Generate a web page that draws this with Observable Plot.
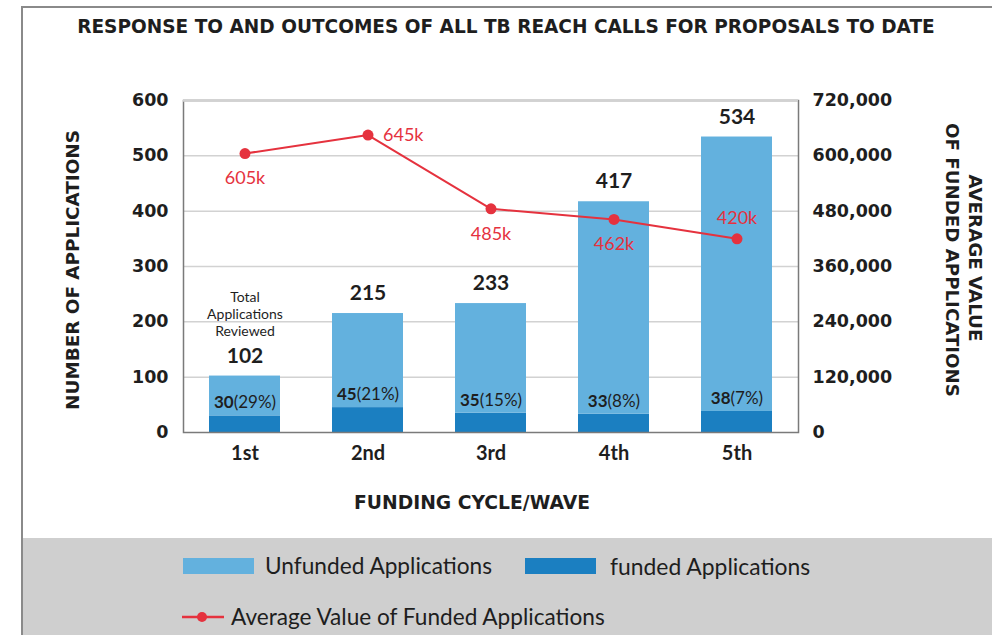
<!DOCTYPE html>
<html>
<head>
<meta charset="utf-8">
<script src="https://cdn.jsdelivr.net/npm/d3@7"></script>
<script src="https://cdn.jsdelivr.net/npm/@observablehq/plot@0.6"></script>
<style>
  html, body { margin: 0; padding: 0; background: #fff; }
  #wrap { position: relative; width: 992px; height: 635px; overflow: hidden; font-family: Lato, "Open Sans", sans-serif; color: #222; }
  #band { position: absolute; left: 23px; top: 538px; width: 969px; height: 97px; background: #cfcfcf; }
  #borderTop { position: absolute; left: 21px; top: 6px; width: 971px; height: 2px; background: #8a8a8a; }
  #borderLeft { position: absolute; left: 21px; top: 6px; width: 2px; height: 629px; background: #8a8a8a; }
  #chart { position: absolute; left: 0; top: 0; }
  .lbl { position: absolute; white-space: nowrap; line-height: 1; color: #1e1e1e; transform-origin: 0 0; }
  .sw { position: absolute; width: 71px; height: 16px; }
</style>
</head>
<body>
<div id="wrap">
  <div id="band"></div>
  <div id="borderTop"></div>
  <div id="borderLeft"></div>
  <div id="chart"></div>
  <div id="labels"></div>
</div>
<script>
// ---- data ----
const waves = ["1st", "2nd", "3rd", "4th", "5th"];
const totalApplications = [102, 215, 233, 417, 534];
const fundedApplications = [30, 45, 35, 33, 38];
const avgFundedValue = [605000, 645000, 485000, 462000, 420000];
const leftTicks = [0, 100, 200, 300, 400, 500, 600];
const rightTicks = [0, 120000, 240000, 360000, 480000, 600000, 720000];
const seriesNames = ["Unfunded Applications", "funded Applications", "Average Value of Funded Applications"];
const titleText = "RESPONSE TO AND OUTCOMES OF ALL TB REACH CALLS FOR PROPOSALS TO DATE";
const xLabel = "FUNDING CYCLE/WAVE";
const yLabelLeft = "NUMBER OF APPLICATIONS";
const yLabelRight = ["AVERAGE VALUE", "OF FUNDED APPLICATIONS"];
const totalNote = ["Total", "Applications", "Reviewed"];

const colors = { unfunded: "#63b1de", funded: "#1b7fc1", line: "#e5323e", text: "#1e1e1e", grid: "#d2d2d2", axis: "#7a7a7a" };

const ratio = rightTicks[rightTicks.length - 1] / leftTicks[leftTicks.length - 1];

const capsFont = "'DejaVu Sans', sans-serif";
const bodyFont = "Lato, 'Open Sans', sans-serif";

const cv = document.createElement("canvas").getContext("2d");
function measure(text, font) { cv.font = font; return cv.measureText(text).width; }

const rows = waves.map((w, i) => ({
  wave: w,
  total: totalApplications[i],
  funded: fundedApplications[i],
  avgScaled: avgFundedValue[i] / ratio,
  numText: String(fundedApplications[i]),
  pctText: `(${Math.round(fundedApplications[i] / totalApplications[i] * 100)}%)`,
  avgLabel: `${Math.round(avgFundedValue[i] / 1000)}k`
}));

const fundedSize = 17;
const fundedMarks = rows.flatMap(r => {
  const wNum = measure(r.numText, `bold ${fundedSize}px ${bodyFont}`);
  const wPct = measure(r.pctText, `${fundedSize}px ${bodyFont}`);
  const split = -(wNum + wPct) / 2 + wNum;
  return [
    Plot.text([r], { x: "wave", y: "funded", text: "numText", textAnchor: "end", dx: split, dy: -13, fontSize: fundedSize, fontWeight: "bold", fontFamily: bodyFont, fill: colors.text }),
    Plot.text([r], { x: "wave", y: "funded", text: "pctText", textAnchor: "start", dx: split, dy: -13, fontSize: fundedSize, fontFamily: bodyFont, fill: colors.text })
  ];
});

// "Total Applications Reviewed" note above the first bar, one line per mark
const noteMarks = totalNote.map((t, k) =>
  Plot.text(rows.filter(d => d.wave === waves[0]), { x: "wave", y: "total", text: () => t, dy: -79 + k * 17, fontSize: 14, fontFamily: bodyFont, fill: colors.text })
);

const plot = Plot.plot({
  width: 992,
  height: 538,
  marginLeft: 183,
  marginRight: 194,
  marginTop: 100,
  marginBottom: 106,
  style: { background: "transparent", fontFamily: bodyFont, color: colors.text, overflow: "visible" },
  x: { domain: waves, paddingInner: 0.42, paddingOuter: 0.21, axis: null },
  y: { domain: [0, 600], axis: null },
  marks: [
    Plot.gridY(leftTicks.slice(1), { stroke: colors.grid, strokeOpacity: 1, strokeWidth: 1.5 }),
    Plot.barY(rows, { x: "wave", y1: 0, y2: "funded", fill: colors.funded }),
    Plot.barY(rows, { x: "wave", y1: "funded", y2: "total", fill: colors.unfunded }),
    Plot.frame({ stroke: colors.axis, strokeWidth: 1.5 }),
    Plot.ruleY([600], { stroke: colors.grid, strokeWidth: 2.5 }),
    Plot.axisY({ anchor: "left", ticks: leftTicks, tickSize: 0, tickPadding: 15, fontSize: 17.5, fontWeight: "bold", fontFamily: capsFont, label: null }),
    Plot.axisY({ anchor: "right", ticks: rightTicks.map(d => d / ratio), tickFormat: d => d3.format(",")(Math.round(d * ratio)), tickSize: 0, tickPadding: 14, fontSize: 17.5, fontWeight: "bold", fontFamily: capsFont, label: null }),
    Plot.axisX({ anchor: "bottom", tickSize: 0, tickPadding: 13, fontSize: 20, fontWeight: "bold", fontFamily: bodyFont, label: null }),
    Plot.text(rows, { x: "wave", y: "total", text: d => String(d.total), dy: -20, fontSize: 21, fontWeight: "bold", fontFamily: bodyFont, fill: colors.text }),
    ...noteMarks,
    ...fundedMarks,
    Plot.line(rows, { x: "wave", y: "avgScaled", stroke: colors.line, strokeWidth: 2 }),
    Plot.dot(rows, { x: "wave", y: "avgScaled", r: 5.5, fill: colors.line }),
    Plot.text(rows.filter((d, i) => i === 0 || i === 2 || i === 3), { x: "wave", y: "avgScaled", text: "avgLabel", dy: 25, fontSize: 18, fontFamily: bodyFont, fill: colors.line }),
    Plot.text(rows.filter((d, i) => i === 1), { x: "wave", y: "avgScaled", text: "avgLabel", dx: 15, textAnchor: "start", fontSize: 18, fontFamily: bodyFont, fill: colors.line }),
    Plot.text(rows.filter((d, i) => i === 4), { x: "wave", y: "avgScaled", text: "avgLabel", dy: -21, fontSize: 18, fontFamily: bodyFont, fill: colors.line })
  ]
});
document.getElementById("chart").appendChild(plot);

// ---- HTML text (title, axis titles, legend) fitted to target widths ----
const labels = document.getElementById("labels");
function label(text, { cx, cy, width, font, weight = "normal", rotate = 0, color = colors.text, anchor = "center" }) {
  const base = 20;
  const w = measure(text, `${weight} ${base}px ${font}`);
  const size = base * width / w;
  const el = document.createElement("div");
  el.className = "lbl";
  el.textContent = text;
  el.style.fontFamily = font;
  el.style.fontWeight = weight;
  el.style.fontSize = size + "px";
  el.style.color = color;
  el.style.left = cx + "px";
  el.style.top = cy + "px";
  const tx = anchor === "start" ? "0" : "-50%";
  el.style.transform = `rotate(${rotate}deg) translate(${tx}, -50%)`;
  labels.appendChild(el);
  return el;
}
label(titleText, { cx: 506, cy: 27, width: 858, font: capsFont, weight: "bold" });
label(xLabel, { cx: 472, cy: 503, width: 236, font: capsFont, weight: "bold" });
label(yLabelLeft, { cx: 73, cy: 270, width: 280, font: capsFont, weight: "bold", rotate: -90 });
label(yLabelRight[0], { cx: 975, cy: 258, width: 167, font: capsFont, weight: "bold", rotate: 90 });
label(yLabelRight[1], { cx: 952, cy: 260, width: 274, font: capsFont, weight: "bold", rotate: 90 });

function addHTML(html) { const t = document.createElement("div"); t.innerHTML = html; labels.appendChild(t.firstChild); }
addHTML(`<div class="sw" style="left:183px;top:558px;background:${colors.unfunded}"></div>`);
addHTML(`<div class="sw" style="left:525px;top:558px;background:${colors.funded}"></div>`);
addHTML(`<svg style="position:absolute;left:180px;top:607px" width="46" height="20"><line x1="2" x2="44" y1="10" y2="10" stroke="${colors.line}" stroke-width="2.5"/><circle cx="22" cy="10" r="5" fill="${colors.line}"/></svg>`);
label(seriesNames[0], { cx: 265, cy: 566, width: 228, font: bodyFont, anchor: "start" });
label(seriesNames[1], { cx: 610, cy: 566, width: 201, font: bodyFont, anchor: "start" });
label(seriesNames[2], { cx: 231, cy: 617, width: 376, font: bodyFont, anchor: "start" });
</script>
</body>
</html>
